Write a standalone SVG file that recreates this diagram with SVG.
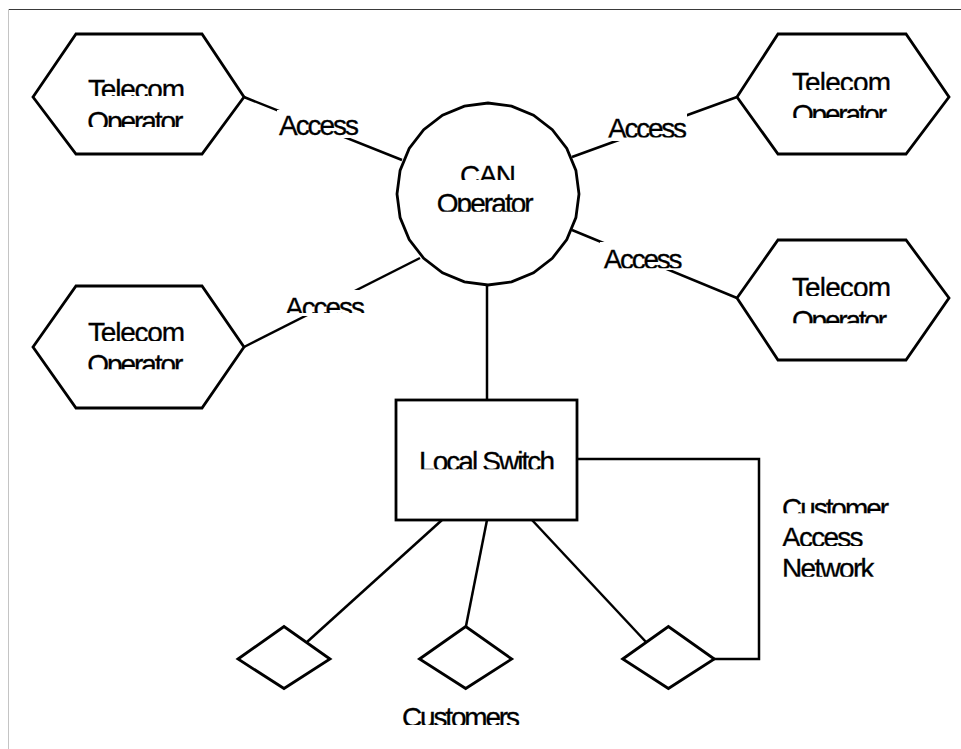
<svg xmlns="http://www.w3.org/2000/svg" width="961" height="749" viewBox="0 0 961 749">
  <style>
    .shape { fill: #ffffff; stroke: #000000; stroke-width: 2.8; stroke-linejoin: miter; }
    .link { fill: none; stroke: #000000; stroke-width: 2.5; }
    .bg { fill: #ffffff; stroke: none; }
    .lbl { font-family: "Liberation Sans", Arial, sans-serif; font-size: 28px; fill: #000000; stroke: #000000; stroke-width: 0.3; }
  </style>
  <defs>
    <!-- each text line is cut off at the bottom of its line box -->
    <clipPath id="k90"><rect width="961" height="90"/></clipPath>
    <clipPath id="k96"><rect width="961" height="96"/></clipPath>
    <clipPath id="k118"><rect width="961" height="118"/></clipPath>
    <clipPath id="k127"><rect width="961" height="127"/></clipPath>
    <clipPath id="k136"><rect width="961" height="136"/></clipPath>
    <clipPath id="k137"><rect width="961" height="137.5"/></clipPath>
    <clipPath id="k180"><rect width="961" height="180"/></clipPath>
    <clipPath id="k211"><rect width="961" height="211.7"/></clipPath>
    <clipPath id="k268"><rect width="961" height="268.3"/></clipPath>
    <clipPath id="k296"><rect width="961" height="296"/></clipPath>
    <clipPath id="k313"><rect width="961" height="313"/></clipPath>
    <clipPath id="k323"><rect width="961" height="323.3"/></clipPath>
    <clipPath id="k341"><rect width="961" height="341"/></clipPath>
    <clipPath id="k369"><rect width="961" height="369.3"/></clipPath>
    <clipPath id="k469"><rect width="961" height="469.3"/></clipPath>
    <clipPath id="k513"><rect width="961" height="513.3"/></clipPath>
    <clipPath id="k546"><rect width="961" height="546"/></clipPath>
    <clipPath id="k577"><rect width="961" height="576.7"/></clipPath>
    <clipPath id="k725"><rect width="961" height="725"/></clipPath>
  </defs>

  <rect width="961" height="749" fill="#ffffff"/>

  <!-- page frame -->
  <g id="frame">
    <line x1="8" y1="9.5" x2="961" y2="9.5" stroke="#3a3a3a" stroke-width="1.2"/>
    <line x1="8.5" y1="9" x2="8.5" y2="749" stroke="#c4c4c4" stroke-width="1"/>
  </g>

  <!-- connectors and their labels -->
  <g id="connectors">
    <line class="link" x1="244" y1="97" x2="402" y2="160"/>
    <line class="link" x1="572" y1="157" x2="737" y2="97"/>
    <line class="link" x1="572" y1="230" x2="737" y2="298"/>
    <line class="link" x1="420" y1="258" x2="244" y2="347"/>
    <line class="link" x1="487" y1="285" x2="487" y2="400"/>
    <line class="link" x1="442" y1="520" x2="307" y2="642"/>
    <line class="link" x1="487" y1="520" x2="466" y2="626"/>
    <line class="link" x1="532" y1="520" x2="646" y2="642"/>
    <polyline class="link" stroke-width="2.2" points="577,459 759,459 759,659 714,659"/>

    <g id="label-access-tl">
      <rect class="bg" x="277" y="110" width="84" height="28"/>
      <text class="lbl" x="279" y="135" textLength="80" clip-path="url(#k136)">Access</text>
    </g>
    <g id="label-access-tr">
      <rect class="bg" x="605" y="113" width="82" height="28"/>
      <text class="lbl" x="608" y="138" textLength="79" clip-path="url(#k137)">Access</text>
    </g>
    <g id="label-access-bl">
      <rect class="bg" x="283" y="290" width="83" height="26"/>
      <text class="lbl" x="285" y="317" textLength="80" clip-path="url(#k313)">Access</text>
    </g>
    <g id="label-access-br">
      <rect class="bg" x="600" y="242" width="84" height="28"/>
      <text class="lbl" x="603.5" y="269" textLength="79" clip-path="url(#k268)">Access</text>
    </g>
    <g id="label-can">
      <text class="lbl" x="782" y="518.3" textLength="107" clip-path="url(#k513)">Customer</text>
      <text class="lbl" x="782" y="547" textLength="81.6" clip-path="url(#k546)">Access</text>
      <text class="lbl" x="782" y="578.3" textLength="92.6" clip-path="url(#k577)">Network</text>
    </g>
  </g>

  <!-- telecom operators -->
  <g id="telecom-tl">
    <polygon class="shape" points="33,97 76,34 202,34 244,97 202,154 76,154"/>
    <text class="lbl" x="88" y="99" textLength="97" clip-path="url(#k96)">Telecom</text>
    <text class="lbl" x="87.3" y="131" textLength="96" clip-path="url(#k127)">Operator</text>
  </g>
  <g id="telecom-tr">
    <polygon class="shape" points="737,97 778,34 906,34 949,97 906,154 778,154"/>
    <text class="lbl" x="792" y="92" textLength="99" clip-path="url(#k90)">Telecom</text>
    <text class="lbl" x="792" y="124" textLength="95" clip-path="url(#k118)">Operator</text>
  </g>
  <g id="telecom-bl">
    <polygon class="shape" points="33,347 76,286 202,286 244,347 202,408 76,408"/>
    <text class="lbl" x="88" y="342" textLength="97" clip-path="url(#k341)">Telecom</text>
    <text class="lbl" x="87.3" y="374" textLength="96" clip-path="url(#k369)">Operator</text>
  </g>
  <g id="telecom-br">
    <polygon class="shape" points="737,298 778,240 906,240 949,298 906,360 778,360"/>
    <text class="lbl" x="792" y="297" textLength="99" clip-path="url(#k296)">Telecom</text>
    <text class="lbl" x="792" y="330" textLength="95" clip-path="url(#k323)">Operator</text>
  </g>

  <!-- CAN operator: faceted circle -->
  <g id="can-operator">
    <polygon class="shape" points="579,194 575.9,217.6 566.8,239.5 552.3,258.3 533.5,272.8 511.6,281.9 488,285 464.4,281.9 442.5,272.8 423.7,258.3 409.2,239.5 400.1,217.6 397,194 400.1,170.4 409.2,148.5 423.7,129.7 442.5,115.2 464.4,106.1 488,103 511.6,106.1 533.5,115.2 552.3,129.7 566.8,148.5 575.9,170.4"/>
    <text class="lbl" x="460" y="185" textLength="56" clip-path="url(#k180)">CAN</text>
    <text class="lbl" x="436.7" y="213" textLength="97" clip-path="url(#k211)">Operator</text>
  </g>

  <!-- local switch -->
  <g id="local-switch">
    <rect class="shape" x="396" y="400" width="181" height="120"/>
    <text class="lbl" x="419" y="471" textLength="136" clip-path="url(#k469)">Local Switch</text>
  </g>

  <!-- customers -->
  <g id="customer-1">
    <polygon class="shape" points="238,659 284,626.5 330,659 284,688.5"/>
  </g>
  <g id="customer-2">
    <polygon class="shape" points="419.5,659 465.7,626.5 511.7,659 465.7,688.5"/>
  </g>
  <g id="customer-3">
    <polygon class="shape" points="622.7,659 668.4,626.5 714.3,659 668.4,688.5"/>
  </g>
  <g id="customers-label">
    <text class="lbl" x="402" y="727" textLength="118" clip-path="url(#k725)">Customers</text>
  </g>
</svg>
